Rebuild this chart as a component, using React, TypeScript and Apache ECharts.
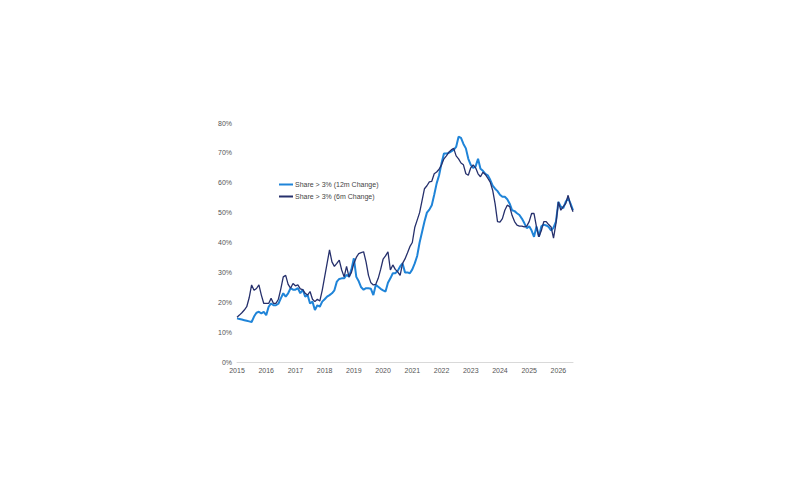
import React, { useEffect, useRef } from "react";
import * as echarts from "echarts";

const years = ["2015","2016","2017","2018","2019","2020","2021","2022","2023","2024","2025","2026"];
const yTicks = [0, 10, 20, 30, 40, 50, 60, 70, 80];

const share12m = [
  14.6,14.4,14.2,14.0,13.8,13.6,13.4,15.2,16.5,16.8,16.3,16.8,
  15.7,18.5,19.6,19.0,19.0,19.5,21.3,23.0,21.9,23.0,24.7,24.2,
  24.2,24.7,23.0,24.2,21.9,22.4,19.6,20.2,17.4,19.0,18.5,20.2,
  21.0,21.9,22.4,23.0,24.0,26.9,27.8,28.0,28.0,29.2,28.5,31.0,
  34.7,28.5,27.0,25.0,24.2,24.7,24.7,24.5,22.4,25.8,25.2,24.5,
  24.0,23.6,26.5,28.0,29.7,29.7,30.5,32.0,33.0,30.0,30.0,29.7,
  31.0,33.0,35.5,40.0,43.5,47.0,50.0,51.0,52.5,56.0,59.8,62.5,
  66.5,69.8,69.8,70.0,70.5,71.0,72.0,75.4,75.0,73.0,71.5,68.0,
  66.0,65.0,65.5,68.0,64.7,64.0,63.0,62.5,61.0,59.0,58.0,57.2,
  56.0,55.3,55.3,54.5,53.0,50.8,50.5,49.8,49.2,48.0,46.5,44.8,
  45.4,44.0,41.9,45.4,41.9,45.4,46.0,45.7,45.2,44.0,45.0,47.0,
  53.6,52.0,51.5,53.6,54.8,53.0,50.8
];

const share6m = [
  15.0,15.7,16.5,17.4,18.5,21.5,25.8,24.0,24.6,25.8,22.4,19.6,
  19.6,19.6,21.3,19.6,19.6,21.0,24.5,28.5,29.0,26.0,24.7,26.3,
  25.5,25.8,24.5,24.2,23.0,22.4,23.6,21.0,20.2,21.0,20.4,24.0,
  28.5,33.0,37.5,33.5,32.0,33.0,34.1,30.8,28.5,32.0,28.5,30.0,
  33.0,35.0,36.3,36.6,36.9,33.5,29.0,26.5,25.8,26.0,28.0,31.0,
  34.4,35.5,36.9,30.8,32.5,31.0,30.2,29.0,33.0,34.5,36.5,38.6,
  40.0,45.0,47.5,50.0,54.0,58.0,59.0,60.3,60.5,63.0,63.6,64.5,
  66.0,68.0,69.0,70.2,71.0,71.5,69.0,68.0,66.6,66.0,63.0,62.5,
  65.0,66.0,65.0,63.0,62.0,63.5,62.8,61.5,60.2,57.5,53.0,47.0,
  46.8,48.0,50.8,52.5,52.0,49.0,47.0,45.8,45.5,45.5,45.2,45.5,
  47.0,49.7,49.7,45.2,41.9,44.0,47.0,47.0,46.0,45.2,41.5,46.4,
  53.6,50.8,52.0,53.0,55.8,52.5,50.3
];

const months: string[] = share12m.map((_, i) => {
  const y = 2015 + Math.floor(i / 12);
  const m = (i % 12) + 1;
  return `${y}-${m < 10 ? "0" + m : m}`;
});

const LIGHT = "#1f84d8";
const DARK = "#26306c";

export default function App() {
  const ref = useRef<HTMLDivElement>(null);
  useEffect(() => {
    if (!ref.current) return;
    const chart = echarts.init(ref.current, null, { renderer: "svg" });
    chart.setOption({
      animation: false,
      backgroundColor: "#ffffff",
      textStyle: { fontFamily: "Liberation Sans, Arial, sans-serif" },
      grid: { left: 229, right: 213, top: 115, bottom: 124, containLabel: false },
      legend: {
        orient: "vertical",
        left: 266,
        top: 168,
        itemGap: 5,
        itemWidth: 14,
        itemHeight: 2,
        icon: "rect",
        textStyle: { fontSize: 7, color: "#444", padding: [0, 0, 0, -3] },
        data: [
          { name: "Share > 3% (12m Change)", itemStyle: { color: LIGHT } },
          { name: "Share > 3% (6m Change)", itemStyle: { color: DARK } },
        ],
      },
      xAxis: {
        type: "category",
        data: months,
        boundaryGap: false,
        axisLine: { show: true, lineStyle: { color: "#d9d9d9", width: 1 } },
        axisTick: { show: false },
        axisLabel: {
          interval: (i: number) => i % 12 === 0,
          formatter: (v: string) => {
            const y = v.slice(0, 4);
            return years.includes(y) ? y : "";
          },
          fontSize: 7,
          color: "#555",
          margin: 5,
        },
        splitLine: { show: false },
      },
      yAxis: {
        type: "value",
        min: yTicks[0],
        max: yTicks[yTicks.length - 1],
        interval: 10,
        axisLine: { show: false },
        axisTick: { show: false },
        splitLine: { show: false },
        axisLabel: { formatter: "{value}%", fontSize: 7, color: "#555", margin: 5 },
      },
      series: [
        {
          name: "Share > 3% (12m Change)",
          type: "line",
          data: share12m,
          showSymbol: false,
          symbol: "none",
          lineStyle: { color: LIGHT, width: 2 },
          itemStyle: { color: LIGHT },
          z: 2,
        },
        {
          name: "Share > 3% (6m Change)",
          type: "line",
          data: share6m,
          showSymbol: false,
          symbol: "none",
          lineStyle: { color: DARK, width: 1.3 },
          itemStyle: { color: DARK },
          z: 3,
        },
      ],
    });
    return () => chart.dispose();
  }, []);
  return <div ref={ref} style={{ width: 778, height: 478 }} />;
}
